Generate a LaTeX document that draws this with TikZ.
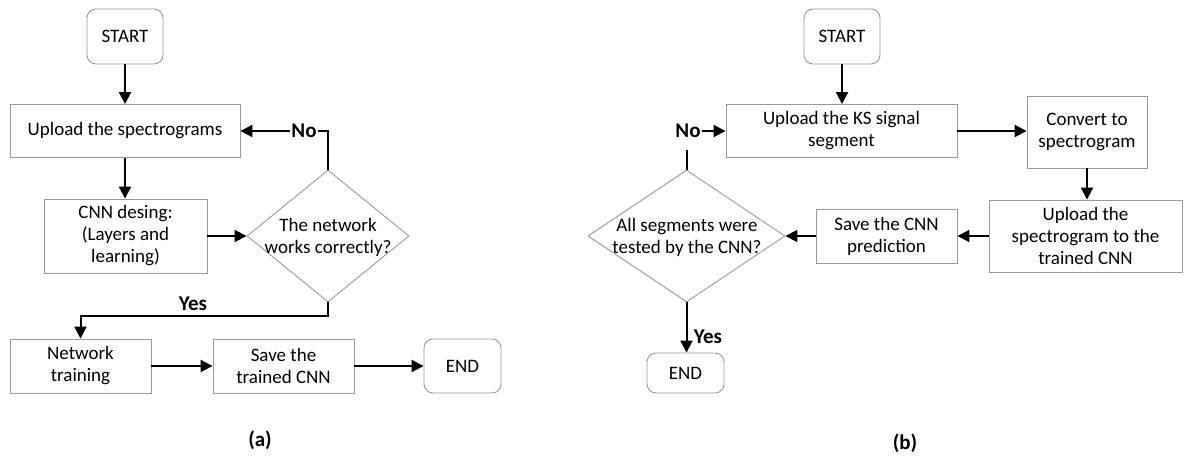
\documentclass[tikz,border=0pt]{standalone}
\usepackage{fontspec}
\setmainfont{Carlito}
\usetikzlibrary{arrows.meta,shapes.geometric}
\newcommand{\boxfont}{\fontsize{19}{22}\selectfont}
\newcommand{\labfont}{\fontsize{21}{24}\selectfont\bfseries}
\begin{document}
\begin{tikzpicture}[x=1pt,y=-1pt,
  box/.style={draw=black!40, line width=0.9pt, inner sep=0pt, align=center, font=\boxfont},
  rbox/.style={box, rounded corners=9pt},
  dia/.style={draw=black!40, line width=0.9pt, diamond, inner sep=0pt},
  dtext/.style={align=center, font=\boxfont, inner sep=0pt},
  arr/.style={line width=2pt, -{Triangle[length=12pt,width=12pt]}},
  ln/.style={line width=2pt},
  lab/.style={font=\labfont, inner sep=1pt},
]
\useasboundingbox (0,0) rectangle (1184,457);

% ---------- (a) ----------
\node[rbox, minimum width=76pt, minimum height=55pt] (sa) at (125,36.5) {START};
\node[box, minimum width=230pt, minimum height=53pt] (up) at (125,131) {Upload the spectrograms};
\node[box, minimum width=163pt, minimum height=74pt] (cnn) at (125.5,236) {CNN desing:\\(Layers and\\learning)};
\node[dia, minimum width=162pt, minimum height=132pt] (da) at (328,236) {};
\node[dtext] (dat) at (328,237) {The network\\works correctly?};
\node[box, minimum width=141pt, minimum height=54pt] (tr) at (80.5,366) {Network\\training};
\node[box, minimum width=141pt, minimum height=54pt] (sv) at (283.5,366) {Save the\\trained CNN};
\node[rbox, minimum width=77pt, minimum height=54pt] (ea) at (462.5,366) {END};

\node[lab] (noa) at (304,131) {No};
\node[lab, anchor=base] (yesa) at (193,311) {Yes};

\draw[arr] (sa.south) -- (up.north);
\draw[arr] (up.south) -- (up.south |- cnn.north);
\draw[arr] (cnn.east) -- (da.west);
\draw[ln] (da.north) |- (noa.east);
\draw[arr] (noa.west) -- (up.east);
\draw[arr] (da.south) -- ++(0,14) -| (tr.north);
\draw[arr] (tr.east) -- (sv.west);
\draw[arr] (sv.east) -- (ea.west);

\node[lab] (capa) at (260,440) {(a)};

% ---------- (b) ----------
\node[rbox, minimum width=76pt, minimum height=55pt] (sb) at (842,36.5) {START};
\node[box, minimum width=231pt, minimum height=53pt] (ks) at (841.5,131) {Upload the KS signal\\segment};
\node[box, minimum width=120pt, minimum height=72pt] (cv) at (1087,132) {Convert to\\spectrogram};
\node[box, minimum width=193pt, minimum height=72pt] (usp) at (1085.5,236) {Upload the\\spectrogram to the\\trained CNN};
\node[box, minimum width=141pt, minimum height=54pt] (scp) at (886.5,236) {Save the CNN\\prediction};
\node[dia, minimum width=197pt, minimum height=132pt] (db) at (686.5,236) {};
\node[dtext] (dbt) at (687,237) {All segments were\\tested by the CNN?};
\node[rbox, minimum width=77pt, minimum height=40pt] (eb) at (685.5,373) {END};

\node[lab] (nob) at (688,131) {No};
\coordinate (nobt) at (686.5,150);
\node[lab] (yesb) at (708,337) {Yes};

\draw[arr] (sb.south) -- (sb.south |- ks.north);
\draw[arr] (ks.east) -- (ks.east -| cv.west);
\draw[arr] (cv.south) -- (cv.south |- usp.north);
\draw[arr] (usp.west) -- (scp.east);
\draw[arr] (scp.west) -- (db.east);
\draw[arr] (db.south) -- (db.south |- eb.north);
\draw[ln] (db.north) -- (nobt);
\draw[arr] (nob.east) -- (ks.west);

\node[lab] (capb) at (905,443) {(b)};
\end{tikzpicture}
\end{document}
